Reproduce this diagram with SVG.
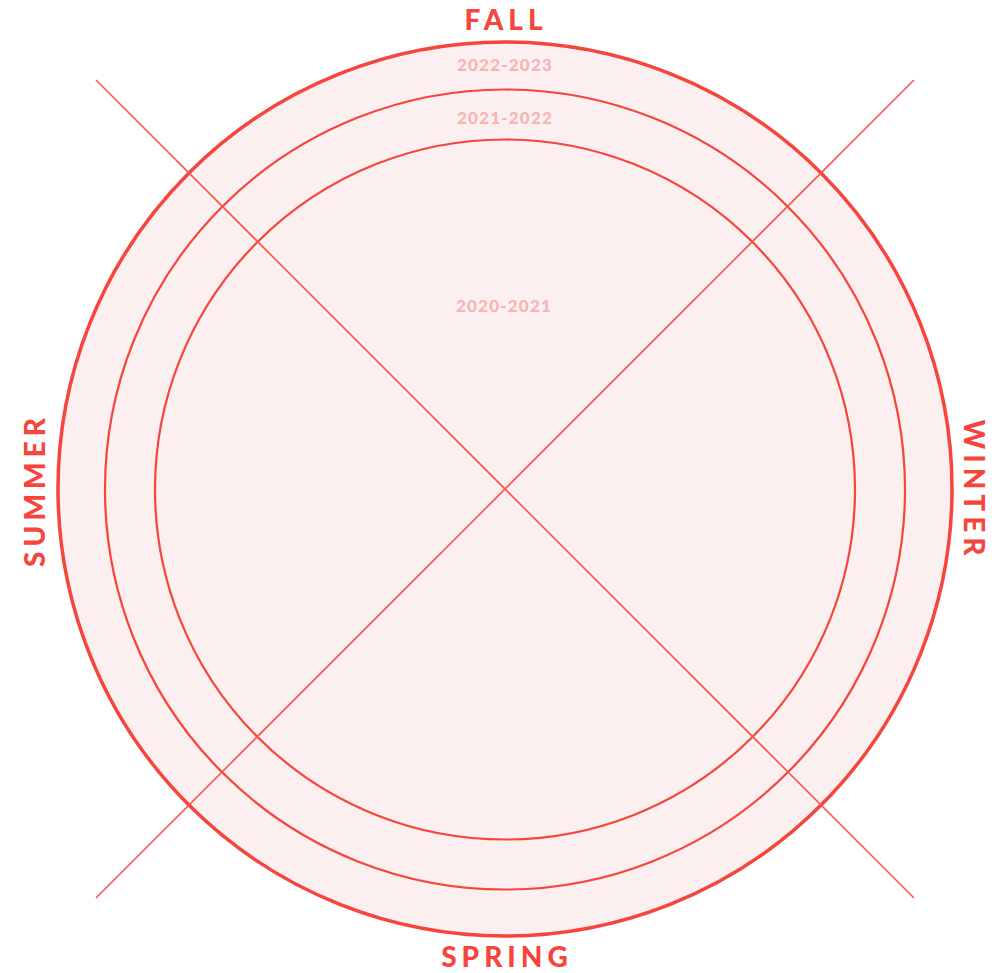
<svg xmlns="http://www.w3.org/2000/svg" width="994" height="973" viewBox="0 0 994 973">
<style>
.ring{fill:#fcefef;stroke:#f5453d}
.ax{stroke:#f5574f;stroke-width:1.6}
.season{font-family:"Lato","Liberation Sans",sans-serif;font-weight:900;font-size:28px;fill:#f5453d;letter-spacing:5px;text-anchor:middle}
.year{font-family:"Lato","Liberation Sans",sans-serif;font-weight:900;font-size:17px;fill:#f4b5b5;letter-spacing:1.2px;text-anchor:middle}
</style>
<rect width="994" height="973" fill="#ffffff"/>
<g id="ring-2022-2023"><circle class="ring" cx="505" cy="489" r="447" stroke-width="3.5"/></g>
<g id="ring-2021-2022"><circle class="ring" cx="505" cy="489.5" r="400" stroke-width="2.2"/></g>
<g id="ring-2020-2021"><circle class="ring" cx="505" cy="489.5" r="350" stroke-width="2.2"/></g>
<g id="connectors">
<line class="ax" x1="96" y1="80" x2="914" y2="898"/>
<line class="ax" x1="914" y1="80" x2="96" y2="898"/>
</g>
<g id="labels-years">
<text class="year" x="505" y="71">2022-2023</text>
<text class="year" x="505" y="124">2021-2022</text>
<text class="year" x="504" y="312">2020-2021</text>
</g>
<g id="fall"><text class="season" x="506" y="30">FALL</text></g>
<g id="spring"><text class="season" x="507" y="967">SPRING</text></g>
<g id="summer"><text class="season" transform="translate(45,490) rotate(-90)">SUMMER</text></g>
<g id="winter"><text class="season" transform="translate(964,490) rotate(90)">WINTER</text></g>
</svg>
